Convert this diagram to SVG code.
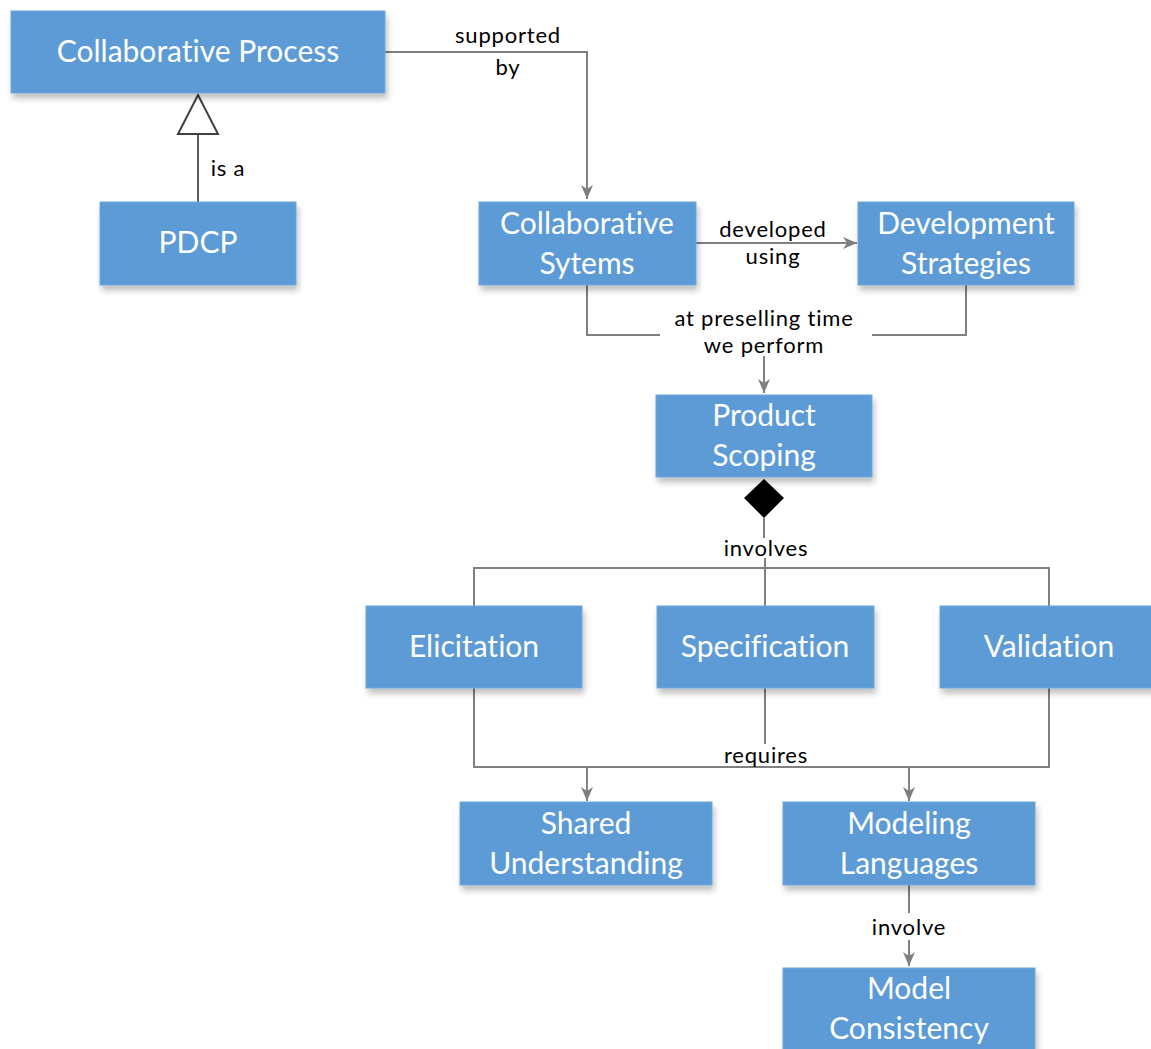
<svg xmlns="http://www.w3.org/2000/svg" width="1151" height="1049" viewBox="0 0 1151 1049">
  <defs>
    <filter id="shadow" x="-10%" y="-10%" width="130%" height="150%">
      <feGaussianBlur in="SourceAlpha" stdDeviation="3"/>
      <feOffset dx="2" dy="5" result="blur"/>
      <feComponentTransfer><feFuncA type="linear" slope="0.25"/></feComponentTransfer>
      <feMerge><feMergeNode/><feMergeNode in="SourceGraphic"/></feMerge>
    </filter>
    <marker id="arrow" viewBox="0 0 14 12" refX="14" refY="6" markerWidth="14" markerHeight="12" markerUnits="userSpaceOnUse" orient="auto">
      <path d="M0,0 L14,6 L0,12 L4,6 Z" fill="#7f7f7f"/>
    </marker>
  </defs>
  <style>
    .box { fill: #5b9bd5; stroke: #6fa8dc; stroke-width: 1; filter: url(#shadow); }
    .name { font-family: "Lato", "Liberation Sans", sans-serif; font-size: 30px; fill: #ffffff; text-anchor: middle; font-variant-ligatures: none; }
    .lbl { font-family: "Lato", "Liberation Sans", sans-serif; font-size: 22px; letter-spacing: 0.8px; fill: #000000; text-anchor: middle; font-variant-ligatures: none; }
    .conn { fill: none; stroke: #808080; stroke-width: 2; }
    .gen { fill: none; stroke: #595959; stroke-width: 2; }
  </style>

  <rect width="1151" height="1049" fill="#ffffff"/>

  <!-- connectors -->
  <g id="connectors">
    <!-- supported by -->
    <path class="conn" d="M385,52 H587 V199" marker-end="url(#arrow)"/>
    <!-- is a (generalisation) -->
    <path class="gen" d="M198,202 V134"/>
    <polygon points="198,95 218,134 178,134" fill="#ffffff" stroke="#404040" stroke-width="2"/>
    <!-- developed using -->
    <path class="conn" d="M696,243 H857" marker-end="url(#arrow)"/>
    <!-- at preselling time we perform -->
    <path class="conn" d="M587,285 V335 H660"/>
    <path class="conn" d="M966,285 V335 H872"/>
    <path class="conn" d="M764,356 V393" marker-end="url(#arrow)"/>
    <!-- involves (composition) -->
    <polygon points="764,479 784,498 764,518 744,498" fill="#000000"/>
    <path class="conn" d="M764,518 V538"/>
    <path class="conn" d="M765,558 V606"/>
    <path class="conn" d="M474,606 V568 H1049 V606"/>
    <!-- requires -->
    <path class="conn" d="M474,688 V767 H1049 V688"/>
    <path class="conn" d="M765,688 V744"/>
    <path class="conn" d="M587,767 V801" marker-end="url(#arrow)"/>
    <path class="conn" d="M909,767 V801" marker-end="url(#arrow)"/>
    <!-- involve -->
    <path class="conn" d="M909,885 V913"/>
    <path class="conn" d="M909,940 V966" marker-end="url(#arrow)"/>

    <text class="lbl" x="508" y="43">supported</text>
    <text class="lbl" x="508" y="75">by</text>
    <text class="lbl" x="228" y="176">is a</text>
    <text class="lbl" x="773" y="237">developed</text>
    <text class="lbl" x="773" y="264">using</text>
    <text class="lbl" x="764" y="326">at preselling time</text>
    <text class="lbl" x="764" y="353">we perform</text>
    <text class="lbl" x="766" y="556">involves</text>
    <text class="lbl" x="766" y="763">requires</text>
    <text class="lbl" x="909" y="935">involve</text>
  </g>

  <!-- nodes -->
  <g id="collaborative-process">
    <rect class="box" x="11" y="11" width="374" height="82"/>
    <text class="name" x="198" y="62">Collaborative Process</text>
  </g>
  <g id="pdcp">
    <rect class="box" x="100" y="202" width="196" height="83"/>
    <text class="name" x="198" y="253">PDCP</text>
  </g>
  <g id="collaborative-systems">
    <rect class="box" x="479" y="202" width="217" height="83"/>
    <text class="name" x="587" y="234">Collaborative</text>
    <text class="name" x="587" y="274">Sytems</text>
  </g>
  <g id="development-strategies">
    <rect class="box" x="858" y="202" width="216" height="83"/>
    <text class="name" x="966" y="234">Development</text>
    <text class="name" x="966" y="274">Strategies</text>
  </g>
  <g id="product-scoping">
    <rect class="box" x="656" y="395" width="216" height="82"/>
    <text class="name" x="764" y="426">Product</text>
    <text class="name" x="764" y="466">Scoping</text>
  </g>
  <g id="elicitation">
    <rect class="box" x="366" y="606" width="216" height="82"/>
    <text class="name" x="474" y="657">Elicitation</text>
  </g>
  <g id="specification">
    <rect class="box" x="657" y="606" width="217" height="82"/>
    <text class="name" x="765" y="657">Specification</text>
  </g>
  <g id="validation">
    <rect class="box" x="940" y="606" width="217" height="82"/>
    <text class="name" x="1049" y="657">Validation</text>
  </g>
  <g id="shared-understanding">
    <rect class="box" x="460" y="802" width="252" height="83"/>
    <text class="name" x="586" y="834">Shared</text>
    <text class="name" x="586" y="874">Understanding</text>
  </g>
  <g id="modeling-languages">
    <rect class="box" x="783" y="802" width="252" height="83"/>
    <text class="name" x="909" y="834">Modeling</text>
    <text class="name" x="909" y="874">Languages</text>
  </g>
  <g id="model-consistency">
    <rect class="box" x="783" y="968" width="252" height="90"/>
    <text class="name" x="909" y="999">Model</text>
    <text class="name" x="909" y="1039">Consistency</text>
  </g>
</svg>
